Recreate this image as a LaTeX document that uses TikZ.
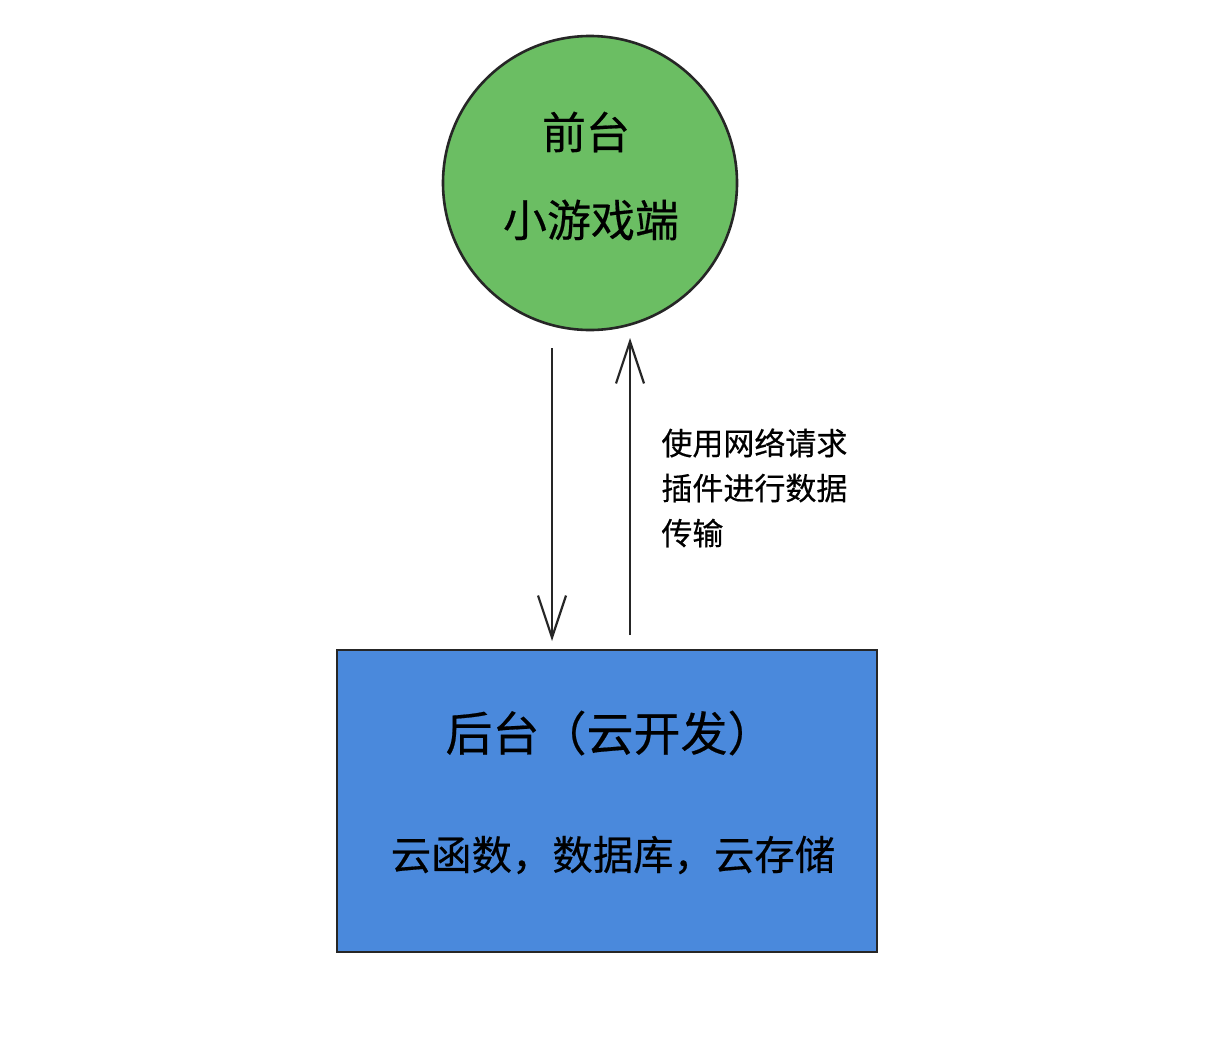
\documentclass[tikz,border=0pt]{standalone}
\usepackage{fontspec}
\setmainfont{Liberation Sans}
\newfontfamily\cjk[FakeBold=0.4]{Noto Sans CJK SC}
\usetikzlibrary{arrows.meta}
\definecolor{fgreen}{HTML}{6BBE63}
\definecolor{bblue}{HTML}{4A89DC}
\tikzset{
  sk/.style={draw=black!85, line width=1.3pt},
  arr/.style={black!85, line width=1.1pt, -{Straight Barb[length=21pt,width=14pt,line width=1.1pt]}},
  bigtxt/.style={font=\cjk\fontsize{22pt}{26pt}\selectfont, text=black},
  lbl/.style={font=\cjk\fontsize{15.5pt}{22.5pt}\selectfont, align=left, anchor=north west, inner sep=0pt, text=black},
}
\begin{document}
\begin{tikzpicture}[x=0.5pt,y=-0.5pt]
\useasboundingbox (0,0) rectangle (1224,1044);
\fill[white] (0,0) rectangle (1224,1044);
% front end circle
\node[sk, fill=fgreen, circle, minimum size=147pt, inner sep=0pt] (front) at (590,183) {};
\node[bigtxt] (t1) at (586,132) {前台};
\node[bigtxt] (t2) at (591,220) {小游戏端};
% back end rectangle
\node[sk, fill=bblue, rectangle, minimum width=270pt, minimum height=151pt, inner sep=0pt] (back) at (607,801) {};
\node[font=\cjk\fontsize{23.5pt}{27pt}\selectfont] (b1) at (610,733) {后台（云开发）};
\node[font=\cjk\fontsize{20.2pt}{24pt}\selectfont] (b2) at (613,855) {云函数，数据库，云存储};
% connectors
\coordinate (d1) at (552,348);
\coordinate (d2) at (552,641);
\coordinate (u1) at (630,635);
\coordinate (u2) at (630,338);
\draw[arr] (d1) -- (d2);
\draw[arr] (u1) -- (u2);
\node[lbl] (lab) at (661,428) {使用网络请求\\插件进行数据\\传输};
\end{tikzpicture}
\end{document}
